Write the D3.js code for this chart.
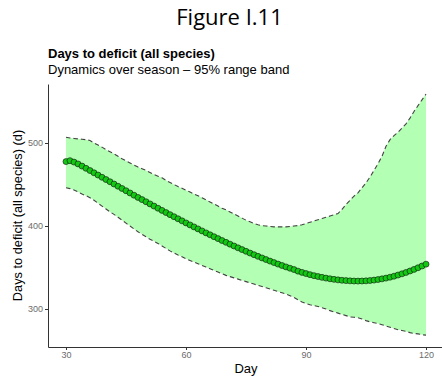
<!DOCTYPE html>
<html>
<head>
  <meta charset="UTF-8">
  <title>Days to deficit</title>
  <script src="https://d3js.org/d3.v7.min.js"></script>
  <style>
    body {
      margin: 0;
      background: #fff;
      font-family: "Liberation Sans", Arial, sans-serif;
    }
    .band {
      fill: rgb(179, 255, 179);
      stroke: none;
    }
    .edge {
      fill: none;
      stroke: #444;
      stroke-width: 1.1;
      stroke-dasharray: 4.5 3;
    }
    .mean {
      fill: none;
      stroke: #111;
      stroke-width: 0.8;
    }
    .dot {
      fill: #12c812;
      stroke: #111;
      stroke-width: 0.6;
    }
    .axis path, .axis line {
      stroke: #333;
    }
    .axis text {
      fill: #6b6b6b;
      font-size: 9px;
      font-family: "Liberation Sans", Arial, sans-serif;
    }
  </style>
</head>
<body>
  <div id="chart"></div>
  <script>
    const days = d3.range(30, 121);

    const meanDays = [
      477.6, 478.7, 477.0, 474.8, 472.2, 469.5, 466.8, 464.1, 461.4, 458.7,
      456.0, 453.3, 450.6, 447.9, 445.2, 442.5, 439.8, 437.1, 434.4, 431.8,
      429.2, 426.6, 424.0, 421.4, 418.8, 416.2, 413.7, 411.2, 408.7, 406.2,
      403.7, 401.3, 398.9, 396.5, 394.1, 391.7, 389.4, 387.1, 384.8, 382.5,
      380.3, 378.1, 375.9, 373.7, 371.6, 369.5, 367.4, 365.4, 363.4, 361.5,
      359.6, 357.7, 355.9, 354.1, 352.4, 350.7, 349.1, 347.5, 345.6, 344.1,
      342.7, 341.4, 340.2, 339.1, 338.1, 337.2, 336.4, 335.7, 335.1, 334.6,
      334.2, 333.9, 333.7, 333.6, 333.7, 333.9, 334.3, 334.8, 335.5, 336.3,
      337.2, 338.3, 339.5, 340.9, 342.4, 344.0, 345.8, 347.7, 349.7, 351.8,
      354.0
    ];

    const upperDays = [
      507.0, 506.0, 505.5, 505.0, 504.5, 504.0, 503.0, 500.0, 497.5, 495.0,
      492.0, 489.5, 487.0, 484.0, 481.0, 478.5, 476.0, 473.5, 471.0, 469.0,
      467.0, 464.5, 462.0, 460.0, 458.0, 455.0, 452.5, 450.0, 447.5, 445.5,
      443.0, 441.0, 438.5, 436.5, 434.0, 431.5, 429.0, 426.5, 424.0, 421.5,
      419.5, 417.0, 414.5, 412.0, 409.5, 407.0, 405.0, 403.0, 401.5, 400.5,
      400.0, 399.5, 399.0, 399.0, 399.0, 399.0, 399.5, 400.0, 400.5, 401.5,
      403.0, 404.5, 406.0, 407.5, 409.0, 410.5, 412.0, 413.5, 415.0, 420.0,
      426.0, 431.0, 436.0, 440.0, 446.0, 452.0, 459.0, 467.0, 475.0, 484.0,
      496.0, 504.0, 509.0, 513.0, 518.0, 523.0, 530.0, 538.0, 545.0, 552.0,
      559.0
    ];

    const lowerDays = [
      446.0, 445.0, 443.5, 441.0, 438.5, 436.5, 434.0, 431.0, 427.5, 424.0,
      420.5, 417.0, 414.0, 410.5, 407.0, 403.5, 400.0, 396.5, 393.0, 390.0,
      387.0, 384.0, 381.5, 379.0, 376.0, 373.0, 370.0, 367.5, 365.0, 363.0,
      360.5, 358.5, 356.5, 354.5, 352.5, 350.5, 348.5, 346.5, 344.5, 342.5,
      340.5, 339.0, 337.5, 336.0, 334.5, 333.0, 331.5, 330.0, 328.5, 327.0,
      325.5, 324.0, 322.5, 321.0, 319.5, 318.0, 316.0, 314.0, 311.0, 308.5,
      306.5, 305.0, 304.0, 303.0, 301.5, 300.0, 298.0, 296.5, 295.0, 293.5,
      292.0, 290.5, 290.0, 289.5, 288.0, 286.0, 284.5, 283.5, 282.5, 281.0,
      279.5, 278.0, 276.5, 275.0, 274.0, 273.0, 271.5, 270.5, 270.0, 269.0,
      268.5
    ];

    const xTicks = [30, 60, 90, 120];
    const yTicks = [300, 400, 500];

    const rows = days.map((d, i) => ({
      day: d, mean: meanDays[i], lo: lowerDays[i], hi: upperDays[i]
    }));

    const W = 442, H = 378;
    const panel = { left: 48, right: 444, top: 84, bottom: 347 };

    const x = d3.scaleLinear().domain([25.5, 124.5]).range([panel.left, panel.right]);
    const y = d3.scaleLinear().domain([254.2, 571.1]).range([panel.bottom, panel.top]);

    const svg = d3.select("#chart").append("svg")
      .attr("width", W)
      .attr("height", H);

    svg.append("text")
      .attr("x", 229.5).attr("y", 25)
      .attr("text-anchor", "middle")
      .style("font-family", "'Open Sans', sans-serif")
      .style("font-size", "22px")
      .style("fill", "#000")
      .text("Figure I.11");

    svg.append("text")
      .attr("x", panel.left).attr("y", 58)
      .style("font-size", "13px")
      .style("font-weight", "bold")
      .text("Days to deficit (all species)");

    svg.append("text")
      .attr("x", panel.left).attr("y", 74)
      .style("font-size", "13px")
      .text("Dynamics over season \u2013 95% range band");

    // range band
    svg.append("path")
      .datum(rows)
      .attr("class", "band")
      .attr("d", d3.area()
        .x(d => x(d.day))
        .y0(d => y(d.lo))
        .y1(d => y(d.hi)));

    svg.append("path")
      .datum(rows)
      .attr("class", "edge")
      .attr("d", d3.line().x(d => x(d.day)).y(d => y(d.hi)));

    svg.append("path")
      .datum(rows)
      .attr("class", "edge")
      .attr("d", d3.line().x(d => x(d.day)).y(d => y(d.lo)));

    // mean trajectory
    svg.append("path")
      .datum(rows)
      .attr("class", "mean")
      .attr("d", d3.line().x(d => x(d.day)).y(d => y(d.mean)));

    svg.selectAll(".dot")
      .data(rows)
      .enter()
      .append("circle")
      .attr("class", "dot")
      .attr("cx", d => x(d.day))
      .attr("cy", d => y(d.mean))
      .attr("r", 3);

    // axes
    svg.append("g")
      .attr("class", "axis")
      .attr("transform", `translate(0, ${panel.bottom})`)
      .call(d3.axisBottom(x).tickValues(xTicks).tickSize(3).tickSizeOuter(0).tickPadding(2));

    svg.append("g")
      .attr("class", "axis")
      .attr("transform", `translate(${panel.left}, 0)`)
      .call(d3.axisLeft(y).tickValues(yTicks).tickSize(3).tickSizeOuter(0).tickPadding(2));

    svg.append("text")
      .attr("x", (panel.left + panel.right) / 2)
      .attr("y", 373)
      .attr("text-anchor", "middle")
      .style("font-size", "13px")
      .text("Day");

    svg.append("text")
      .attr("transform", `translate(22, ${(panel.top + panel.bottom) / 2}) rotate(-90)`)
      .attr("text-anchor", "middle")
      .style("font-size", "12.8px")
      .text("Days to deficit (all species) (d)");
  </script>
</body>
</html>
